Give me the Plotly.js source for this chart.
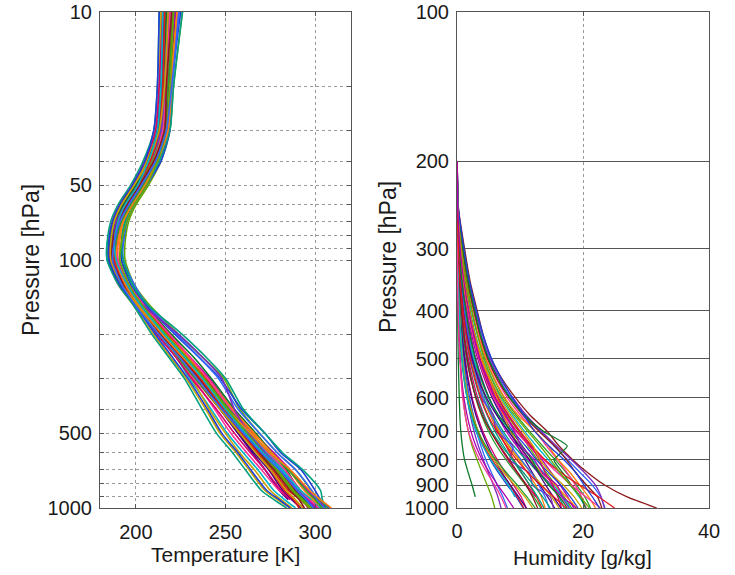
<!DOCTYPE html>
<html>
<head>
<meta charset="utf-8">
<script src="https://cdn.plot.ly/plotly-3.0.1.min.js"></script>
<style>
  html, body { margin: 0; padding: 0; background: #ffffff; }
  #chart { width: 735px; height: 575px; }
</style>
</head>
<body>
<div id="chart"></div>
<script>
// Pressure levels (hPa) of the temperature soundings
const tempLevels = [10, 20, 30, 40, 50, 60, 70, 85, 100, 125, 150, 200, 250, 300, 400, 500, 600, 700, 850, 925, 1000];

// Temperature soundings [K], one value per level above (null = below the surface)
const t01 = [219, 217, 215, 209, 201, 194, 189, 186, 187, 193, 201, 214, 225, 233, 247, 259, 268, 276, 285, 292, 298];
const t02 = [223, 219, 218, 213, 205, 198, 193, 190, 189, 195, 204, 219, 231, 240, 253, 265, 274, 283, 292, 298, 304];
const t03 = [214, 213, 211, 205, 198, 191, 187, 185, 185, 190, 198, 210, 220, 228, 239, 247, 256, 263, 272, 279, 286];
const t04 = [226, 221, 219, 214, 207, 200, 196, 194, 194, 199, 207, 224, 238, 249, 258, 269, 279, 289, 298, 302, 307];
const t05 = [217, 215, 213, 207, 199, 192, 187, 184, 184, 191, 199, 212, 223, 230, 242, 251, 260, 268, 277, 283, 289];
const t06 = [221, 218, 216, 211, 203, 196, 191, 188, 188, 194, 202, 216, 228, 237, 251, 262, 272, 281, 290, 296, 301];
const t07 = [215, 214, 212, 206, 200, 193, 189, 187, 188, 194, 202, 215, 227, 235, 248, 257, 265, 272, 280, 285, null];
const t08 = [224, 220, 218, 212, 204, 197, 192, 189, 190, 196, 204, 218, 231, 241, 254, 266, 277, 286, 296, 301, 306];
const t09 = [218, 216, 214, 208, 202, 195, 190, 188, 189, 196, 203, 217, 229, 238, 251, 262, 272, 280, 289, 293, 296];
const t10 = [220, 218, 215, 210, 203, 195, 190, 186, 185, 190, 199, 213, 224, 232, 244, 253, 262, 270, 280, 287, 294];
const t11 = [216, 214, 212, 206, 199, 192, 188, 186, 186, 192, 200, 213, 224, 233, 247, 258, 268, 277, 287, 294, 300];
const t12 = [222, 219, 217, 212, 205, 198, 194, 192, 192, 198, 205, 220, 233, 242, 255, 267, 276, 284, 291, 296, 300];
const t13 = [213, 212, 210, 204, 197, 190, 186, 184, 184, 190, 198, 209, 219, 227, 237, 245, 254, 261, 270, 277, 284];
const t14 = [225, 220, 219, 214, 206, 199, 195, 193, 192, 197, 205, 222, 236, 247, 259, 272, 281, 292, 300, 303, 308];
const t15 = [219, 216, 214, 209, 202, 195, 191, 189, 189, 195, 202, 216, 228, 236, 249, 260, 270, 279, 288, 293, null];
const t16 = [221, 218, 216, 210, 202, 194, 189, 186, 186, 192, 201, 215, 227, 236, 250, 261, 271, 280, 289, 295, 302];
const t17 = [217, 215, 213, 208, 201, 194, 190, 188, 188, 195, 203, 218, 230, 239, 252, 263, 273, 281, 288, 292, 297];
const t18 = [223, 219, 217, 211, 204, 197, 193, 191, 191, 196, 203, 217, 230, 240, 254, 266, 276, 285, 294, 299, 303];
const t19 = [214, 213, 211, 206, 199, 192, 188, 186, 187, 193, 201, 213, 223, 231, 241, 250, 258, 266, 275, 281, 287];
const t20 = [220, 217, 215, 209, 201, 193, 188, 185, 186, 192, 200, 214, 226, 234, 248, 259, 269, 278, 287, 292, 297];
const t21 = [218, 216, 214, 208, 200, 193, 188, 186, 186, 193, 201, 215, 227, 237, 251, 263, 273, 282, 291, 297, 303];
const t22 = [224, 220, 218, 213, 206, 199, 195, 193, 193, 199, 206, 223, 236, 246, 257, 269, 279, 289, 298, 301, 305];
const t23 = [216, 214, 212, 207, 200, 193, 189, 187, 187, 193, 201, 214, 226, 234, 247, 257, 266, 274, 282, 287, 292];
const t24 = [222, 218, 216, 210, 203, 196, 191, 188, 188, 193, 200, 213, 225, 234, 249, 261, 271, 280, 290, 296, 301];
const t25 = [215, 213, 211, 205, 198, 191, 187, 185, 186, 192, 200, 212, 223, 231, 245, 255, 264, 272, 281, 286, null];
const t26 = [219, 217, 215, 210, 203, 196, 192, 190, 190, 196, 204, 219, 231, 240, 253, 264, 274, 283, 292, 297, 302];
const t27 = [221, 218, 216, 211, 204, 197, 192, 189, 188, 194, 202, 216, 228, 238, 252, 264, 275, 285, 295, 300, 304];
const t28 = [217, 215, 213, 207, 200, 193, 188, 185, 185, 191, 199, 213, 225, 234, 248, 260, 270, 279, 288, 294, 299];
const t29 = [226, 221, 219, 213, 205, 198, 194, 192, 193, 198, 206, 226, 240, 250, 260, 272, 282, 293, 303, 304, 306];
const t30 = [213, 212, 210, 205, 198, 191, 187, 185, 185, 191, 199, 211, 221, 229, 240, 248, 257, 264, 273, 280, 286];
const t31 = [218, 216, 214, 208, 201, 194, 189, 187, 187, 194, 203, 224, 238, 248, 255, 263, 272, 281, 290, 295, 300];
const t32 = [220, 217, 216, 210, 202, 195, 190, 187, 187, 193, 200, 214, 226, 235, 249, 260, 269, 277, 286, 291, 294];
const t33 = [216, 215, 213, 208, 201, 194, 190, 188, 188, 194, 201, 215, 227, 236, 249, 259, 268, 275, 283, 288, 291];
const t34 = [223, 220, 218, 212, 205, 198, 193, 190, 189, 194, 201, 215, 227, 237, 251, 264, 275, 286, 297, 303, 309];
const t35 = [218, 216, 213, 207, 199, 192, 188, 186, 186, 192, 200, 213, 225, 234, 247, 258, 267, 275, 284, 289, 293];
const t36 = [221, 219, 217, 212, 206, 199, 195, 192, 191, 196, 203, 217, 229, 238, 251, 262, 271, 279, 288, 293, 298];
const t37 = [215, 214, 212, 207, 201, 194, 190, 188, 189, 195, 202, 216, 228, 237, 250, 261, 271, 281, 292, 298, null];
const t38 = [224, 220, 217, 211, 203, 196, 191, 188, 187, 192, 199, 213, 225, 234, 248, 260, 270, 280, 290, 295, 299];

const tempProfiles = [t01, t02, t03, t04, t05, t06, t07, t08, t09, t10, t11, t12, t13, t14, t15, t16, t17, t18, t19,
                      t20, t21, t22, t23, t24, t25, t26, t27, t28, t29, t30, t31, t32, t33, t34, t35, t36, t37, t38];

// Pressure levels (hPa) of the humidity soundings
const humLevels = [200, 250, 300, 350, 400, 450, 500, 550, 600, 650, 700, 750, 800, 850, 900, 950, 1000];

// Specific humidity soundings [g/kg]
const q01 = [0.01, 0.05, 0.3, 0.7, 1.2, 1.8, 2.5, 3.3, 4.2, 5.3, 6.5, 7.8, 9.0, 10.3, 11.5, 12.6, 13.5];
const q02 = [0.02, 0.1, 0.5, 1.1, 1.9, 2.8, 3.9, 5.2, 6.6, 8.2, 10.0, 11.8, 13.5, 15.0, 16.4, 17.6, 18.5];
const q03 = [0, 0.02, 0.1, 0.2, 0.4, 0.6, 0.9, 1.2, 1.6, 2.1, 2.7, 3.4, 4.2, 5.0, 5.8, 6.5, 7.0];
const q04 = [0.03, 0.2, 0.9, 1.8, 2.9, 3.9, 5.1, 6.7, 8.6, 10.8, 13.2, 15.4, 17.6, 19.6, 21.5, 22.8, 23.5];
const q05 = [0.01, 0.04, 0.2, 0.5, 0.9, 1.4, 2.0, 2.8, 3.7, 4.8, 6.0, 7.4, 8.8, 10.2, 11.6, 12.8, 13.8];
const q06 = [0, 0.01, 0.05, 0.1, 0.2, 0.3, 0.5, 0.7, 1.0, 1.3, 1.8, 2.4, 3.2, 4.0, 4.8, 5.5, 6.0];
const q07 = [0.02, 0.15, 0.7, 1.4, 2.3, 3.3, 4.5, 5.9, 7.5, 9.4, 11.5, 13.6, 15.6, 17.4, 19.0, 20.3, 21.2];
const q08 = [0.01, 0.06, 0.35, 0.8, 1.4, 2.0, 2.7, 3.6, 4.6, 5.6, 6.8, 8.2, 9.8, 11.2, 12.5, 13.4, 14.0];
const q09 = [0, 0.02, 0.15, 0.35, 0.6, 0.9, 1.3, 1.8, 2.4, 3.2, 4.1, 5.2, 6.4, 7.7, 9.0, 10.2, 11.0];
const q10 = [0.03, 0.25, 1.2, 2.1, 3.2, 4.2, 5.4, 7.2, 9.3, 11.6, 14.3, 16.2, 18.4, 20.8, 23.5, 27.0, 31.7];
const q11 = [0.01, 0.08, 0.4, 0.9, 1.6, 2.4, 3.3, 4.4, 5.6, 7.0, 8.4, 9.6, 10.8, 12.0, 13.2, 14.4, 15.5];
const q12 = [0, 0.03, 0.15, 0.3, 0.5, 0.8, 1.1, 1.5, 2.0, 2.6, 3.3, 4.2, 5.3, 6.6, 8.0, 9.4, 10.5];
const q13 = [0.02, 0.12, 0.6, 1.3, 2.1, 3.0, 4.1, 5.5, 7.0, 8.8, 10.7, 12.6, 14.5, 16.3, 18.0, 19.4, 20.5];
const q14 = [0, 0.01, 0.03, 0.06, 0.1, 0.15, 0.2, 0.28, 0.36, 0.45, 0.6, 0.85, 1.2, 1.8, 2.4, 2.9, null];
const q15 = [0.01, 0.05, 0.25, 0.6, 1.0, 1.6, 2.3, 3.1, 4.1, 5.3, 6.7, 8.3, 10.0, 11.8, 13.5, 15.0, 16.2];
const q16 = [0.02, 0.18, 0.8, 1.6, 2.6, 3.6, 4.8, 6.3, 8.0, 10.1, 12.4, 14.2, 16.0, 17.5, 18.8, 19.8, 20.5];
const q17 = [0, 0.01, 0.06, 0.15, 0.3, 0.5, 0.8, 1.2, 1.7, 2.4, 3.2, 4.3, 5.6, 7.0, 8.4, 9.6, 10.6];
const q18 = [0.01, 0.07, 0.4, 0.9, 1.5, 2.2, 3.0, 4.0, 5.1, 6.4, 7.8, 9.5, 11.3, 13.2, 15.0, 16.6, 17.8];
const q19 = [0.03, 0.22, 1.0, 1.9, 3.0, 4.1, 5.3, 6.9, 8.9, 11.0, 13.4, 15.8, 18.2, 20.3, 22.0, 22.9, 23.4];
const q20 = [0, 0.02, 0.1, 0.25, 0.45, 0.7, 1.0, 1.4, 1.9, 2.5, 3.1, 3.8, 4.6, 5.5, 6.4, 7.3, 8.0];
const q21 = [0.01, 0.05, 0.3, 0.7, 1.2, 1.8, 2.6, 3.5, 4.5, 5.8, 7.3, 9.0, 11.0, 13.0, 14.8, 16.2, 17.0];
const q22 = [0.02, 0.14, 0.65, 1.3, 2.0, 2.8, 3.7, 4.9, 6.3, 7.9, 9.8, 11.3, 12.8, 14.2, 15.7, 17.0, 18.2];
const q23 = [0, 0.03, 0.2, 0.45, 0.8, 1.2, 1.7, 2.3, 3.0, 3.9, 5.0, 6.3, 7.8, 9.4, 10.9, 12.2, 13.3];
const q24 = [0.02, 0.16, 0.75, 1.5, 2.4, 3.4, 4.6, 6.0, 7.6, 9.7, 12.4, 14.5, 16.1, 18.0, 19.5, 20.9, 22.0];
const q25 = [0.01, 0.04, 0.2, 0.45, 0.8, 1.2, 1.8, 2.5, 3.3, 4.3, 5.4, 6.7, 8.1, 9.6, 11.1, 12.5, null];
const q26 = [0.03, 0.2, 0.9, 1.7, 2.7, 3.7, 4.9, 6.4, 8.3, 10.5, 13.0, 15.5, 17.4, 18.9, 20.6, 22.3, 23.0];
const q27 = [0, 0.02, 0.12, 0.3, 0.55, 0.85, 1.2, 1.7, 2.3, 3.0, 3.9, 4.9, 6.0, 7.2, 8.5, 9.8, 11.0];
const q28 = [0.02, 0.1, 0.5, 1.1, 1.8, 2.6, 3.5, 4.6, 5.8, 7.2, 8.9, 10.9, 12.6, 14.6, 16.5, 18.0, 19.2];
const q29 = [0.01, 0.06, 0.3, 0.75, 1.3, 1.9, 2.7, 3.8, 5.0, 6.5, 8.2, 10.1, 12.0, 13.8, 15.4, 16.8, 18.0];
const q30 = [0.03, 0.2, 0.95, 1.8, 2.8, 3.8, 5.0, 6.6, 8.4, 10.7, 13.7, 17.5, 15.4, 16.8, 18.2, 19.6, 20.4];
const q31 = [0, 0.02, 0.1, 0.22, 0.4, 0.6, 0.9, 1.3, 1.8, 2.5, 3.4, 4.5, 5.9, 7.5, 9.2, 10.8, 12.0];
const q32 = [0.01, 0.09, 0.45, 1.0, 1.7, 2.5, 3.4, 4.5, 5.8, 7.4, 9.3, 11.5, 13.8, 16.0, 18.2, 20.5, 22.8];
const q33 = [0.02, 0.12, 0.55, 1.2, 2.0, 2.9, 3.9, 5.1, 6.5, 8.1, 9.9, 11.9, 14.0, 16.6, 19.5, 22.5, 25.0];
const q34 = [0, 0.01, 0.05, 0.12, 0.22, 0.35, 0.5, 0.75, 1.1, 1.6, 2.2, 3.0, 4.0, 5.2, 6.5, 7.8, 9.0];
const q35 = [0.01, 0.05, 0.3, 0.8, 1.1, 1.9, 2.2, 3.6, 3.9, 5.8, 6.2, 8.9, 8.4, 11.5, 12.0, 14.8, 15.3];
const q36 = [0.01, 0.06, 0.3, 0.65, 1.1, 1.7, 2.4, 3.2, 4.2, 5.5, 7.0, 8.6, 10.2, 11.8, 13.0, 14.0, 14.6];
const q37 = [0, 0.02, 0.12, 0.3, 0.6, 1.0, 1.5, 2.2, 3.1, 4.2, 5.5, 7.1, 8.9, 10.6, 12.2, 13.6, 14.8];
const q38 = [0.02, 0.15, 0.7, 1.5, 2.4, 3.3, 4.3, 5.6, 7.2, 9.1, 11.2, 13.2, 14.9, 16.4, 18.0, 19.6, 21.0];
const q39 = [0, 0.01, 0.06, 0.15, 0.3, 0.5, 0.75, 1.1, 1.6, 2.3, 3.3, 4.6, 6.2, 7.9, 9.6, 11.1, 12.4];
const q40 = [0.01, 0.08, 0.45, 1.0, 1.8, 2.7, 3.8, 5.1, 6.3, 7.4, 8.5, 9.9, 11.6, 13.5, 15.6, 17.4, 19.0];
const q41 = [0.02, 0.1, 0.55, 1.2, 1.9, 2.7, 3.6, 4.7, 6.0, 7.6, 9.5, 11.6, 13.1, 14.0, 15.2, 16.0, 16.6];
const q42 = [0, 0.03, 0.18, 0.4, 0.7, 1.1, 1.6, 2.2, 3.0, 4.0, 5.3, 6.8, 8.3, 9.7, 11.0, 12.0, 12.8];
const q43 = [0.01, 0.05, 0.25, 0.55, 1.0, 1.6, 2.4, 3.4, 4.7, 6.3, 8.1, 9.9, 11.5, 12.9, 14.1, 15.3, 16.5];
const q44 = [0.03, 0.24, 1.1, 2.0, 3.1, 4.2, 5.5, 7.1, 8.8, 10.6, 12.3, 14.6, 17.0, 18.9, 20.2, 21.5, 22.6];
const q45 = [0, 0.02, 0.08, 0.18, 0.35, 0.55, 0.8, 1.15, 1.6, 2.2, 3.0, 4.1, 5.4, 6.8, 8.2, 9.2, null];
const q46 = [0.01, 0.07, 0.35, 0.8, 1.4, 2.1, 2.9, 3.9, 5.1, 6.6, 8.6, 10.4, 11.9, 13.1, 14.6, 16.3, 17.5];
const q47 = [0.02, 0.13, 0.6, 1.2, 2.0, 2.9, 4.0, 5.3, 6.8, 8.5, 10.4, 12.1, 13.2, 14.9, 16.9, 18.6, 19.8];
const q48 = [0, 0.01, 0.04, 0.1, 0.18, 0.3, 0.45, 0.65, 0.9, 1.3, 1.8, 2.6, 3.6, 4.8, 6.0, 7.0, 7.8];
const q49 = [0.01, 0.04, 0.22, 0.5, 0.95, 1.5, 2.1, 2.9, 3.8, 4.9, 6.3, 7.9, 9.5, 11.3, 13.3, 15.4, 17.3];
const q50 = [0.02, 0.11, 0.5, 1.1, 1.85, 2.7, 3.6, 4.9, 6.1, 7.8, 9.1, 10.2, 12.3, 13.6, 15.9, 16.8, 18.9];

const humProfiles = [q01, q02, q03, q04, q05, q06, q07, q08, q09, q10, q11, q12, q13, q14, q15, q16, q17,
                     q18, q19, q20, q21, q22, q23, q24, q25, q26, q27, q28, q29, q30, q31, q32, q33, q34,
                     q35, q36, q37, q38, q39, q40, q41, q42, q43, q44, q45, q46, q47, q48, q49, q50];

// Axis tick positions and labels
const tempPressTicks = [10, 20, 30, 40, 50, 60, 70, 80, 90, 100, 200, 300, 400, 500, 600, 700, 800, 900, 1000];
const tempPressLabels = ['10', '', '', '', '50', '', '', '', '', '100', '', '', '', '500', '', '', '', '', '1000'];
const tempTicks = [200, 250, 300];
const humPressTicks = [100, 200, 300, 400, 500, 600, 700, 800, 900, 1000];
const humTicks = [0, 20, 40];

// Axis titles
const tempTitle = 'Temperature [K]';
const humTitle = 'Humidity [g/kg]';
const pressTitle = 'Pressure [hPa]';

// Line colours cycled over the soundings
const palette = ['#e41a1c', '#1f3fd6', '#2ca02c', '#b000b0', '#00b5c8', '#ff7f0e', '#7b2cbf', '#0a7a2a',
                 '#d6006f', '#3366ff', '#c8a000', '#8c1a1a', '#00a080', '#ff3399', '#4b0082', '#66aa00'];

const traces = [];
tempProfiles.forEach((t, i) => {
  traces.push({
    type: 'scatter', mode: 'lines', x: t, y: tempLevels, xaxis: 'x', yaxis: 'y',
    line: { color: palette[(i * 5) % palette.length], width: 1.6, shape: 'spline', smoothing: 0.7 },
    hoverinfo: 'skip', showlegend: false
  });
});
humProfiles.forEach((q, i) => {
  traces.push({
    type: 'scatter', mode: 'lines', x: q, y: humLevels, xaxis: 'x2', yaxis: 'y2',
    line: { color: palette[(i * 3) % palette.length], width: 1.3, shape: 'spline', smoothing: 0.5 },
    hoverinfo: 'skip', showlegend: false
  });
});

const W = 735, H = 575;
const font = { family: 'Liberation Sans, Arial, Helvetica, sans-serif', size: 20, color: '#1a1a1a' };
const frame = { showline: true, mirror: 'ticks', linecolor: '#555555', linewidth: 1, zeroline: false };

// Axis titles placed as paper annotations (pixel positions converted to paper fractions)
function title(text, px, py, size, angle, anchor) {
  return {
    text: text, xref: 'paper', yref: 'paper', x: px / W, y: 1 - py / H,
    xanchor: 'center', yanchor: anchor, textangle: angle, showarrow: false,
    font: { family: font.family, size: size, color: font.color }
  };
}

const layout = {
  width: W, height: H,
  margin: { l: 0, r: 0, t: 0, b: 0, pad: 0 },
  paper_bgcolor: '#ffffff', plot_bgcolor: '#ffffff',
  font: font,
  showlegend: false,
  xaxis: Object.assign({}, frame, {
    domain: [100 / W, 351 / W], range: [180, 320], anchor: 'y',
    tickmode: 'array', tickvals: tempTicks, ticks: 'inside', ticklen: 4, tickcolor: '#555555',
    showgrid: true, gridcolor: '#9a9a9a', griddash: 'dot', gridwidth: 1,
    ticklabelstandoff: 6
  }),
  yaxis: Object.assign({}, frame, {
    domain: [67 / H, 563 / H], type: 'log', range: [3, 1], anchor: 'x',
    tickmode: 'array', tickvals: tempPressTicks, ticktext: tempPressLabels,
    ticks: 'inside', ticklen: 4, tickcolor: '#555555',
    showgrid: true, gridcolor: '#9a9a9a', griddash: 'dot', gridwidth: 1,
    ticklabelstandoff: 3
  }),
  xaxis2: Object.assign({}, frame, {
    domain: [457 / W, 709 / W], range: [0, 40], anchor: 'y2',
    tickmode: 'array', tickvals: humTicks, ticks: 'inside', ticklen: 4, tickcolor: '#555555',
    showgrid: true, gridcolor: '#9a9a9a', griddash: 'dot', gridwidth: 1,
    ticklabelstandoff: 5
  }),
  yaxis2: Object.assign({}, frame, {
    domain: [67 / H, 563 / H], type: 'log', range: [3, 2], anchor: 'x2',
    tickmode: 'array', tickvals: humPressTicks, ticktext: humPressTicks.map(String),
    ticks: '', showgrid: true, gridcolor: '#555555', gridwidth: 1,
    ticklabelstandoff: 3
  }),
  annotations: [
    title(tempTitle, 225.5, 541, 21, 0, 'top'),
    title(humTitle, 582, 544, 21, 0, 'top'),
    title(pressTitle, 31, 260, 23, -90, 'middle'),
    title(pressTitle, 388, 257, 23, -90, 'middle')
  ]
};

Plotly.newPlot('chart', traces, layout, { staticPlot: true, displayModeBar: false });
</script>
</body>
</html>
